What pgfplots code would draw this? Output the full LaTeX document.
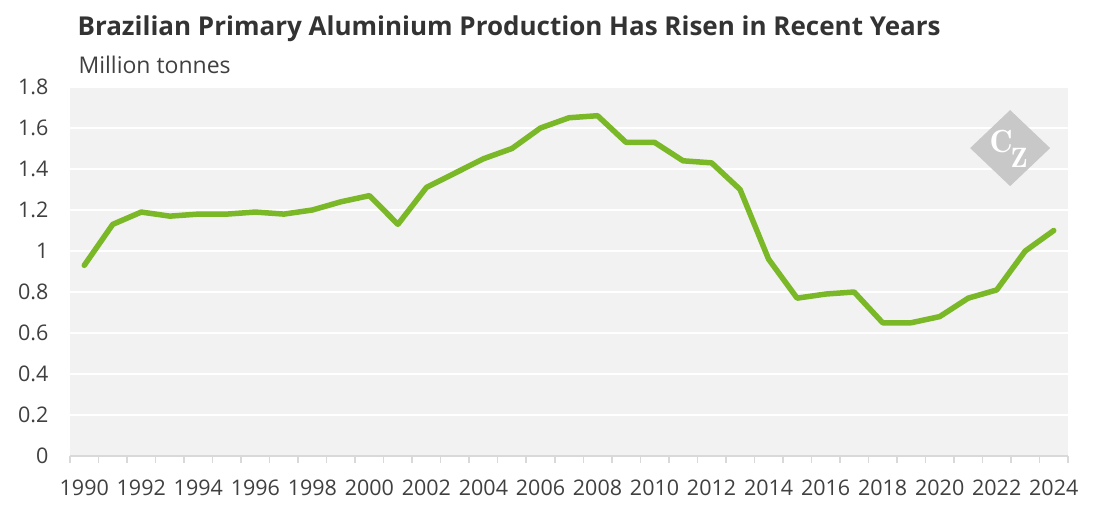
\documentclass[border=0pt]{standalone}
\usepackage{fontspec}
\setmainfont{Open Sans}
\usepackage{pgfplots}
\pgfplotsset{compat=1.18}

\definecolor{linegreen}{RGB}{122,184,40}
\definecolor{bgcol}{RGB}{242,242,242}
\definecolor{axisgray}{RGB}{217,217,217}
\definecolor{txt}{RGB}{64,64,64}
\definecolor{titletxt}{RGB}{51,51,51}
\definecolor{logo}{RGB}{200,200,200}

% Brazilian primary aluminium production, million tonnes (index 0 = 1990)
\begin{document}
\begin{tikzpicture}[x=1pt,y=1pt]
\begin{axis}[
  scale only axis,
  width=998pt, height=369pt,
  xmin=0, xmax=35, ymin=0, ymax=1.8,
  axis background/.style={fill=bgcol},
  axis x line*=bottom, axis y line*=left,
  y axis line style={draw=none},
  x axis line style={draw=axisgray, line width=2pt, -},
  xtick={0.5,2.5,...,34.5},
  xticklabels={1990,1992,1994,1996,1998,2000,2002,2004,2006,2008,2010,2012,2014,2016,2018,2020,2022,2024},
  minor xtick={0,...,35},
  major tick length=0pt,
  minor tick length=7pt,
  tick align=outside,
  minor tick style={draw=axisgray, line width=1.5pt},
  ytick={0,0.2,...,1.8},
  ymajorgrids,
  major grid style={draw=white, line width=2pt},
  /pgf/number format/assume math mode=true,
  tick label style={font=\fontsize{21.5}{24}\selectfont, text=txt},
  xticklabel style={yshift=-20pt},
  yticklabel style={xshift=-18pt},
  clip=false,
]
\addplot[linegreen, line width=5.5pt, line join=round, line cap=round] coordinates {
  (0.5,0.93) (1.5,1.13) (2.5,1.19) (3.5,1.17) (4.5,1.18) (5.5,1.18)
  (6.5,1.19) (7.5,1.18) (8.5,1.20) (9.5,1.24) (10.5,1.27) (11.5,1.13)
  (12.5,1.31) (13.5,1.38) (14.5,1.45) (15.5,1.50) (16.5,1.60) (17.5,1.65)
  (18.5,1.66) (19.5,1.53) (20.5,1.53) (21.5,1.44) (22.5,1.43) (23.5,1.30)
  (24.5,0.96) (25.5,0.77) (26.5,0.79) (27.5,0.80) (28.5,0.65) (29.5,0.65)
  (30.5,0.68) (31.5,0.77) (32.5,0.81) (33.5,1.00) (34.5,1.10)
};
\coordinate (o) at (rel axis cs:0,0);
\coordinate (lg) at (axis cs:32.97,1.502);
\end{axis}
% watermark logo
\fill[logo] ([shift={(-40pt,0pt)}]lg) -- ([shift={(0pt,38pt)}]lg) -- ([shift={(40pt,0pt)}]lg) -- ([shift={(0pt,-38pt)}]lg) -- cycle;
\node[inner sep=0pt, text=white, font=\fontfamily{lmr}\bfseries\fontsize{32}{32}\selectfont] at ([shift={(-9pt,7pt)}]lg) {C};
\node[inner sep=0pt, text=white, font=\fontfamily{lmr}\bfseries\fontsize{28}{28}\selectfont] at ([shift={(9pt,-10pt)}]lg) {Z};
% titles
\node[anchor=base west, text=titletxt, font=\bfseries\fontsize{26}{30}\selectfont] at ([shift={(4pt,420pt)}]o) {Brazilian Primary Aluminium Production Has Risen in Recent Years};
\node[anchor=base west, text=txt, font=\fontsize{23}{26}\selectfont] at ([shift={(5pt,382pt)}]o) {Million tonnes};
\pgfresetboundingbox
\path[use as bounding box] ([shift={(-70pt,-61pt)}]o) rectangle ([shift={(1029pt,456pt)}]o);
\end{tikzpicture}
\end{document}
